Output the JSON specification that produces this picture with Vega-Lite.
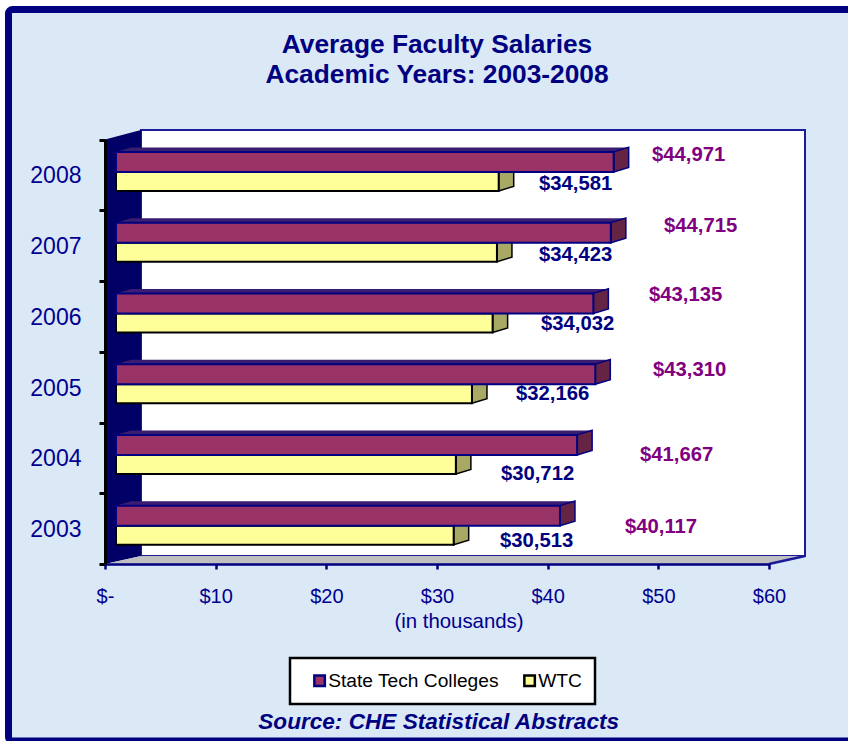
{
"$schema":"https://vega.github.io/schema/vega-lite/v6.json",
"width":848,"height":741,"padding":0,"autosize":{"type":"none"},"background":"white",
"config":{"view":{"stroke":null},"font":"Liberation Sans","legend":{"strokeWidth":2.5}},
"title":{"text":["Average Faculty Salaries","Academic Years: 2003-2008"],"anchor":"middle","frame":"group","dx":13,"offset":-88,"baseline":"top","font":"Liberation Sans","fontSize":26.3,"fontWeight":"bold","color":"#000080","lineHeight":30},
"datasets":{
"salaries":[
{"year":2003,"series":"State Tech Colleges","value":40117},{"year":2003,"series":"WTC","value":30513},
{"year":2004,"series":"State Tech Colleges","value":41667},{"year":2004,"series":"WTC","value":30712},
{"year":2005,"series":"State Tech Colleges","value":43310},{"year":2005,"series":"WTC","value":32166},
{"year":2006,"series":"State Tech Colleges","value":43135},{"year":2006,"series":"WTC","value":34032},
{"year":2007,"series":"State Tech Colleges","value":44715},{"year":2007,"series":"WTC","value":34423},
{"year":2008,"series":"State Tech Colleges","value":44971},{"year":2008,"series":"WTC","value":34581}],
"leftWall":[{"a":0,"t":2008.5,"b":2002.5},{"a":3253,"t":2008.634,"b":2002.613}],
"floor":[{"a":0,"t":2002.5,"b":2002.5},{"a":3253,"t":2002.613,"b":2002.5},{"a":60000,"t":2002.613,"b":2002.5},{"a":63253,"t":2002.613,"b":2002.613}],
"floorEdge":[{"a":60000,"t":2002.5},{"a":63253,"t":2002.613}]
},
"data":{"name":"salaries"},
"layer":[
{"data":{"values":[{}]},"mark":{"type":"rect","fill":"#DBE8F6","stroke":"#000080","strokeWidth":7,"cornerRadius":4},
 "encoding":{
  "x":{"datum":-8720,"type":"quantitative","scale":{"domain":[0,60000],"range":[105,769],"nice":false,"zero":false,"padding":0},
   "axis":{"values":[0,10000,20000,30000,40000,50000,60000],"labelExpr":"datum.value==0?'$-':'$'+datum.value/1000","labelFlush":false,"offset":-177,"zindex":1,"grid":false,"domainColor":"#000080","domainWidth":2.5,"tickColor":"#000080","tickWidth":2.5,"tickSize":5,"labelColor":"#000090","labelFontSize":20,"labelPadding":17,"labelFont":"Liberation Sans","title":"(in thousands)","titleColor":"#000090","titleFont":"Liberation Sans","titleFontSize":20.4,"titleFontWeight":"normal","titleX":458.5,"titleY":47}},
  "x2":{"datum":67770},
  "y":{"datum":2010.337,"type":"quantitative","scale":{"domain":[2002.5,2008.5],"range":[564,139.5],"nice":false,"zero":false,"padding":0},
   "axis":{"values":[2002.5,2003.5,2004.5,2005.5,2006.5,2007.5,2008.5],"labelExpr":"datum.value<2008?''+(floor(datum.value)+1):''","labelOffset":-34.3,"offset":-105,"zindex":1,"grid":false,"domainColor":"#000000","domainWidth":3,"tickColor":"#000000","tickWidth":3,"tickSize":6,"labelColor":"#000090","labelFontSize":23,"labelPadding":18,"labelFont":"Liberation Sans","title":null}},
  "y2":{"datum":2000}}},
{"data":{"values":[{}]},"mark":{"type":"rect","fill":"#FFFFFF","stroke":"#1A1A9A","strokeWidth":2},
 "encoding":{"x":{"datum":3253,"type":"quantitative"},"x2":{"datum":63253},"y":{"datum":2008.634,"type":"quantitative"},"y2":{"datum":2002.613}}},
{"data":{"name":"leftWall"},"mark":{"type":"area","fill":"#000066"},
 "encoding":{"x":{"field":"a","type":"quantitative"},"y":{"field":"t","type":"quantitative"},"y2":{"field":"b"}}},
{"data":{"name":"floor"},"mark":{"type":"area","fill":"#C0C0C0"},
 "encoding":{"x":{"field":"a","type":"quantitative"},"y":{"field":"t","type":"quantitative"},"y2":{"field":"b"}}},
{"data":{"name":"floorEdge"},"mark":{"type":"line","color":"#1A1A9A","strokeWidth":2.5},
 "encoding":{"x":{"field":"a","type":"quantitative"},"y":{"field":"t","type":"quantitative"}}},
{"transform":[{"filter":"datum.series=='WTC'"}],
 "mark":{"type":"point","shape":"M0,-9.5L15,-14L15,5L0,9.5Z","size":4,"filled":true,"fill":"#A9A966","stroke":"#000000","strokeWidth":1.5,"opacity":1,"xOffset":11,"yOffset":6.5},
 "encoding":{"x":{"field":"value","type":"quantitative"},"y":{"field":"year","type":"quantitative"}}},
{"transform":[{"filter":"datum.series=='WTC'"}],
 "mark":{"type":"bar","orient":"horizontal","size":19,"xOffset":11,"yOffset":6.5,"strokeWidth":2},
 "encoding":{"x":{"field":"value","type":"quantitative"},"y":{"field":"year","type":"quantitative"},
  "fill":{"field":"series","type":"nominal","scale":{"domain":["State Tech Colleges","WTC"],"range":["#993366","#FFFF99"]},
   "legend":{"orient":"none","legendX":290,"legendY":658,"direction":"horizontal","columns":2,"title":null,"fillColor":"#FFFFFF","strokeColor":"#000000","padding":13,"labelFontSize":19.2,"labelColor":"#000000","labelFont":"Liberation Sans","labelLimit":300,"symbolType":"square","symbolSize":110,"symbolStrokeWidth":2.5,"symbolOffset":7,"columnPadding":14,"labelOffset":-1,"rowPadding":0}},
  "stroke":{"field":"series","type":"nominal","scale":{"domain":["State Tech Colleges","WTC"],"range":["#000080","#000000"]},
   "legend":{"orient":"none","legendX":290,"legendY":658,"direction":"horizontal","columns":2,"title":null,"fillColor":"#FFFFFF","strokeColor":"#000000","padding":13,"labelFontSize":19.2,"labelColor":"#000000","labelFont":"Liberation Sans","labelLimit":300,"symbolType":"square","symbolSize":110,"symbolStrokeWidth":2.5,"symbolOffset":7,"columnPadding":14,"labelOffset":-1,"rowPadding":0}}}},
{"transform":[{"filter":"datum.series=='State Tech Colleges'"}],
 "mark":{"type":"bar","orient":"horizontal","size":4.5,"xOffset":26,"yOffset":-25.2,"fill":"#3A1C70"},
 "encoding":{"x":{"field":"value","type":"quantitative"},"y":{"field":"year","type":"quantitative"}}},
{"transform":[{"filter":"datum.series=='State Tech Colleges'"}],
 "mark":{"type":"point","shape":"M0,-10L15,-14.5L15,-10Z","size":4,"filled":true,"fill":"#3A1C70","opacity":1,"xOffset":11,"yOffset":-13},
 "encoding":{"x":{"datum":0,"type":"quantitative"},"y":{"field":"year","type":"quantitative"}}},
{"transform":[{"filter":"datum.series=='State Tech Colleges'"}],
 "mark":{"type":"point","shape":"M0,-10L15,-14.5L15,5.5L0,10Z","size":4,"filled":true,"fill":"#662444","stroke":"#000080","strokeWidth":1.5,"opacity":1,"xOffset":11,"yOffset":-13},
 "encoding":{"x":{"field":"value","type":"quantitative"},"y":{"field":"year","type":"quantitative"}}},
{"transform":[{"filter":"datum.series=='State Tech Colleges'"}],
 "mark":{"type":"bar","orient":"horizontal","size":20,"xOffset":11,"yOffset":-13,"strokeWidth":2},
 "encoding":{"x":{"field":"value","type":"quantitative"},"y":{"field":"year","type":"quantitative"},
  "fill":{"field":"series","type":"nominal"},"stroke":{"field":"series","type":"nominal"}}},
{"transform":[{"filter":"datum.series=='State Tech Colleges'"}],
 "mark":{"type":"text","align":"left","baseline":"middle","fontSize":20.3,"fontWeight":"bold","color":"#800080",
  "dx":{"expr":"{'2008':49.3,'2007':64.1,'2006':66.6,'2005':68.7,'2004':73.9,'2003':76}[datum.year]"},
  "dy":{"expr":"{'2008':-20,'2007':-20,'2006':-21,'2005':-17,'2004':-3,'2003':-1.5}[datum.year]"}},
 "encoding":{"x":{"field":"value","type":"quantitative"},"y":{"field":"year","type":"quantitative"},"text":{"field":"value","type":"quantitative","format":"$,d"}}},
{"transform":[{"filter":"datum.series=='WTC'"}],
 "mark":{"type":"text","align":"left","baseline":"middle","fontSize":20.3,"fontWeight":"bold","color":"#000080",
  "dx":{"expr":"{'2008':51.3,'2007':53,'2006':59.4,'2005':55,'2004':56,'2003':57.3}[datum.year]"},
  "dy":{"expr":"{'2008':9,'2007':9.3,'2006':7.6,'2005':7,'2004':16.2,'2003':12.5}[datum.year]"}},
 "encoding":{"x":{"field":"value","type":"quantitative"},"y":{"field":"year","type":"quantitative"},"text":{"field":"value","type":"quantitative","format":"$,d"}}},
{"data":{"values":[{}]},"mark":{"type":"text","align":"center","baseline":"middle","fontSize":22.6,"fontWeight":"bold","fontStyle":"italic","color":"#000080","text":"Source: CHE Statistical Abstracts"},
 "encoding":{"x":{"datum":30150,"type":"quantitative"},"y":{"datum":2000.267,"type":"quantitative"}}}
]
}
